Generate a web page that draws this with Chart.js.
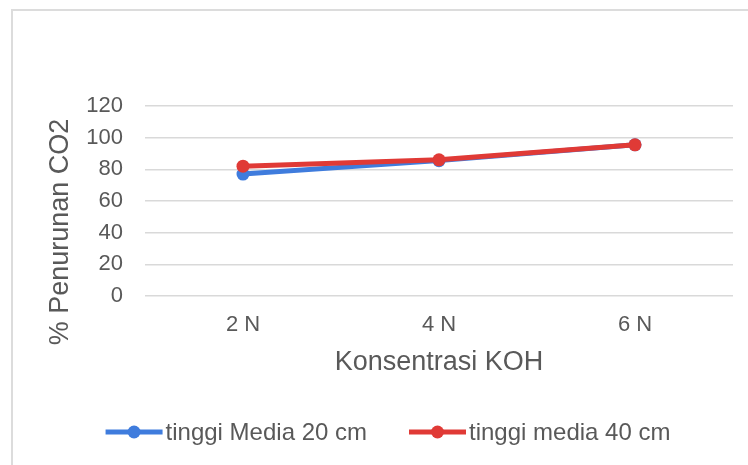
<!DOCTYPE html>
<html>
<head>
<meta charset="utf-8">
<script src="https://cdn.jsdelivr.net/npm/chart.js@4/dist/chart.umd.min.js"></script>
<style>
  html, body { margin: 0; padding: 0; background: #fff; }
  #wrap { position: relative; width: 748px; height: 465px; overflow: hidden; }
  #frame { position: absolute; left: 11px; top: 9px; width: 760px; height: 480px;
           border-left: 2px solid #dcdcdc; border-top: 2px solid #dcdcdc; box-sizing: border-box; }
  canvas { position: absolute; left: 0; top: 0; }
</style>
</head>
<body>
<div id="wrap">
  <div id="frame"></div>
  <canvas id="c" width="748" height="465"></canvas>
</div>
<script>
// Konsentrasi KOH vs % penurunan CO2
const categories = ['2 N', '4 N', '6 N'];
const media20 = [77, 85.5, 95.5];
const media40 = [82, 86, 95.5];
const seriesNames = ['tinggi Media 20 cm', 'tinggi media 40 cm'];
const yTicks = [0, 20, 40, 60, 80, 100, 120];
const xTitle = 'Konsentrasi KOH';
const yTitle = '% Penurunan CO2';

const BLUE = '#3f7cdd';
const RED = '#e03a36';
const FONT = "'Liberation Sans', Arial, sans-serif";
const TEXT = '#595959';

// Rotated value-axis title, placed a little below the middle of the plot
const yTitlePlugin = {
  id: 'yTitle',
  afterDraw(chart) {
    const ctx = chart.ctx;
    ctx.save();
    ctx.translate(61, 232);
    ctx.rotate(-Math.PI / 2);
    ctx.font = '27px ' + FONT;
    ctx.fillStyle = TEXT;
    ctx.textAlign = 'center';
    ctx.textBaseline = 'middle';
    ctx.fillText(yTitle, 0, 0);
    ctx.restore();
  }
};

// Legend row under the axis title: line + round marker, then the series name
const lineLegendPlugin = {
  id: 'lineLegend',
  afterDraw(chart) {
    const ctx = chart.ctx;
    const y = 432, sw = 57, gapText = 3, gapItem = 42, r = 6.5;
    ctx.save();
    ctx.font = '24px ' + FONT;
    const items = chart.data.datasets.map(ds => ({
      text: ds.label, color: ds.borderColor, w: ctx.measureText(ds.label).width
    }));
    const total = items.reduce((s, it) => s + sw + gapText + it.w, 0) + gapItem * (items.length - 1);
    let x = 388 - total / 2;
    items.forEach(it => {
      ctx.strokeStyle = it.color;
      ctx.lineWidth = 5;
      ctx.beginPath(); ctx.moveTo(x, y); ctx.lineTo(x + sw, y); ctx.stroke();
      ctx.fillStyle = it.color;
      ctx.beginPath(); ctx.arc(x + sw / 2, y, r, 0, Math.PI * 2); ctx.fill();
      ctx.fillStyle = TEXT;
      ctx.textAlign = 'left';
      ctx.textBaseline = 'middle';
      ctx.fillText(it.text, x + sw + gapText, y + 1);
      x += sw + gapText + it.w + gapItem;
    });
    ctx.restore();
  }
};

new Chart(document.getElementById('c'), {
  type: 'line',
  data: {
    labels: categories,
    datasets: [
      { label: seriesNames[0], data: media20, borderColor: BLUE, backgroundColor: BLUE,
        borderWidth: 5, pointRadius: 6.5, pointHoverRadius: 6.5, pointBorderWidth: 0,
        pointStyle: 'circle', tension: 0, order: 2 },
      { label: seriesNames[1], data: media40, borderColor: RED, backgroundColor: RED,
        borderWidth: 5, pointRadius: 6.5, pointHoverRadius: 6.5, pointBorderWidth: 0,
        pointStyle: 'circle', tension: 0, order: 1 }
    ]
  },
  plugins: [yTitlePlugin, lineLegendPlugin],
  options: {
    responsive: false,
    animation: false,
    events: [],
    layout: { padding: { left: 0, right: 15, top: 106, bottom: 75 } },
    plugins: {
      tooltip: { enabled: false },
      legend: { display: false }
    },
    scales: {
      x: {
        offset: true,
        afterFit(scale) { scale.height = 94; },
        grid: { display: false },
        border: { display: false },
        ticks: { color: TEXT, font: { family: FONT, size: 22 }, padding: 8 },
        title: { display: true, text: xTitle, color: TEXT,
                 font: { family: FONT, size: 27 }, padding: { top: 0, bottom: 11 } }
      },
      y: {
        min: 0, max: 120,
        afterBuildTicks(scale) { scale.ticks = yTicks.map(v => ({ value: v })); },
        afterFit(scale) { scale.width = 145; },
        grid: { color: '#d9d9d9', lineWidth: 1.5, drawTicks: false },
        border: { display: false },
        ticks: { color: TEXT, font: { family: FONT, size: 22 }, padding: 22 }
      }
    }
  }
});
</script>
</body>
</html>
